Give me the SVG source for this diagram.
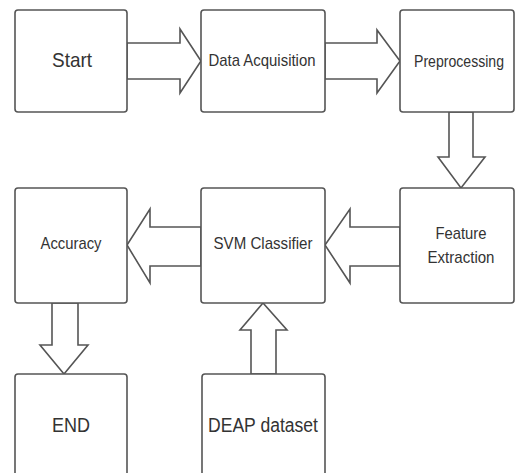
<svg xmlns="http://www.w3.org/2000/svg" width="516" height="473" viewBox="0 0 516 473">
<style>
.box{fill:#fff;stroke:#555;stroke-width:1.6}
.arr{fill:#fff;stroke:#555;stroke-width:1.6;stroke-linejoin:miter}
text{font-family:"Liberation Sans",Arial,sans-serif;fill:#333;text-anchor:middle}
.s{font-size:17px}
</style>
<rect width="516" height="473" fill="#fff"/>
<g id="connectors">
<polygon class="arr" points="127,43 180,43 180,29 201,61 180,93 180,79 127,79"/>
<polygon class="arr" points="325,43 377,43 377,30 400,61 377,93 377,79 325,79"/>
<polygon class="arr" points="449,112 473,112 473,157 485,157 461,188 438,157 449,157"/>
<polygon class="arr" points="400,227 350,227 350,209 325,245 350,283 350,266 400,266"/>
<polygon class="arr" points="201,227 150,227 150,209 127,245 150,283 150,266 201,266"/>
<polygon class="arr" points="52,303 78,303 78,345 88,345 64,374 40,345 52,345"/>
<polygon class="arr" points="251,374 276,374 276,330 287,330 263,303 240,330 251,330"/>
</g>
<g id="start"><rect class="box" x="15" y="10" width="112" height="102" rx="3"/><text x="72" y="67" font-size="21" textLength="40" lengthAdjust="spacingAndGlyphs">Start</text></g>
<g id="data-acquisition"><rect class="box" x="201" y="10" width="124" height="102" rx="3"/><text class="s" x="262" y="66" textLength="107" lengthAdjust="spacingAndGlyphs">Data Acquisition</text></g>
<g id="preprocessing"><rect class="box" x="400" y="10" width="114" height="102" rx="3"/><text class="s" x="459" y="67" textLength="90" lengthAdjust="spacingAndGlyphs">Preprocessing</text></g>
<g id="feature-extraction"><rect class="box" x="400" y="188" width="114" height="115" rx="3"/><text class="s" x="461" y="239" textLength="51" lengthAdjust="spacingAndGlyphs">Feature</text><text class="s" x="461" y="263" textLength="67" lengthAdjust="spacingAndGlyphs">Extraction</text></g>
<g id="svm-classifier"><rect class="box" x="201" y="188" width="124" height="115" rx="3"/><text class="s" x="263" y="249" textLength="99" lengthAdjust="spacingAndGlyphs">SVM Classifier</text></g>
<g id="accuracy"><rect class="box" x="15" y="188" width="112" height="115" rx="3"/><text class="s" x="71" y="249" textLength="61" lengthAdjust="spacingAndGlyphs">Accuracy</text></g>
<g id="end"><rect class="box" x="15" y="374" width="112" height="115" rx="3"/><text x="71" y="432" font-size="21" textLength="38" lengthAdjust="spacingAndGlyphs">END</text></g>
<g id="deap-dataset"><rect class="box" x="202" y="374" width="123" height="115" rx="3"/><text x="263" y="432" font-size="20" textLength="110" lengthAdjust="spacingAndGlyphs">DEAP dataset</text></g>
</svg>
